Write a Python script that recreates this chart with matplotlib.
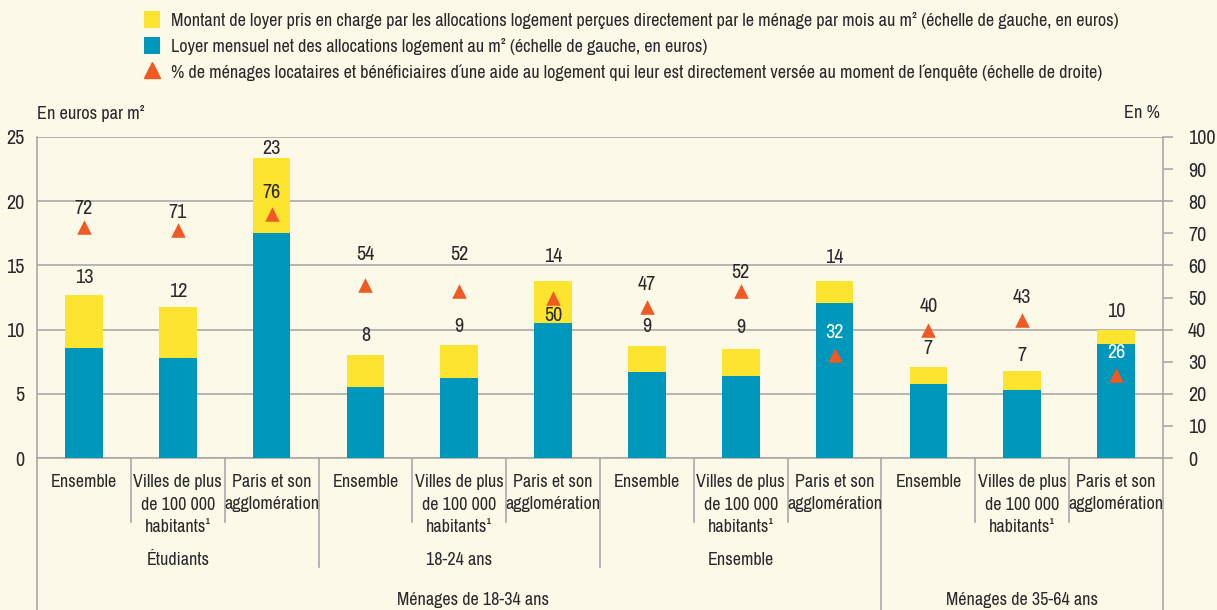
import matplotlib
matplotlib.use("Agg")
import matplotlib.pyplot as plt
from matplotlib import font_manager as fm
from matplotlib.patches import Patch
from matplotlib.lines import Line2D
from matplotlib.transforms import blended_transform_factory

# Données
categories = ["Ensemble", "Villes de plus\nde 100 000\nhabitants\u00b9", "Paris et son\nagglomération"] * 4
sous_groupes = ["Étudiants", "18-24 ans", "Ensemble"]
groupes = ["Ménages de 18-34 ans", "Ménages de 35-64 ans"]
loyer_net = [8.6, 7.8, 17.5, 5.55, 6.25, 10.55, 6.7, 6.4, 12.05, 5.75, 5.3, 8.9]
montant_alloc = [4.1, 3.95, 5.85, 2.5, 2.55, 3.25, 2.0, 2.1, 1.7, 1.35, 1.45, 1.1]
total_labels = [13, 12, 23, 8, 9, 14, 9, 9, 14, 7, 7, 10]
pct_beneficiaires = [72, 71, 76, 54, 52, 50, 47, 52, 32, 40, 43, 26]

# Décalages des étiquettes (en pixels)
off_total = [17, 16, 10, 19, 19, 24, 20, 21, 24, 18, 16, 18]
off_pct = [18, 18, 22, 30, 37, -18, 23, 19, 23, 23, 22, 22]

BG = "#FDF9E9"
JAUNE = "#FDE42F"
BLEU = "#0097BD"
ORANGE = "#EF5A24"
GRIS = "#A9A9A9"
TXT = "#2A2A2A"

# police étroite si disponible, sinon Liberation Sans plus petite
famille, etirement, k = "Liberation Sans", "normal", 0.86
for f in fm.fontManager.ttflist:
    st = str(f.stretch)
    if ("Narrow" in f.name or "Condensed" in f.name or st in ("condensed", "semi-condensed")) \
            and f.style == "normal" and str(f.weight) in ("400", "normal", "regular"):
        famille, etirement, k = f.name, st, 1.0
        if "Narrow" in f.name or "Liberation" in f.name:
            break

plt.rcParams["font.family"] = [famille, "DejaVu Sans"]
plt.rcParams["font.stretch"] = etirement
plt.rcParams["text.color"] = TXT

W, H = 1217, 610
fig = plt.figure(figsize=(W / 100, H / 100), dpi=100, facecolor=BG)
ax = fig.add_axes([37 / W, 1 - 458 / H, (1163 - 37) / W, (458 - 137) / H])
ax.set_facecolor(BG)

x = list(range(len(loyer_net)))
totaux = [a + b for a, b in zip(loyer_net, montant_alloc)]

ax.bar(x, loyer_net, width=0.4, color=BLEU, zorder=3)
ax.bar(x, montant_alloc, width=0.4, bottom=loyer_net, color=JAUNE, zorder=3)

ax.set_xlim(-0.5, 11.5)
ax.set_ylim(0, 25)
ax.set_yticks(range(0, 26, 5))
ax.yaxis.grid(True, color=GRIS, lw=1.2, zorder=0)
ax.set_xticks([])
ax.tick_params(axis="y", length=0, pad=9, labelsize=14.5 * k, labelcolor=TXT)
for s in ["top", "right"]:
    ax.spines[s].set_visible(False)
for s in ["left", "bottom"]:
    ax.spines[s].set_color(GRIS)
    ax.spines[s].set_linewidth(1.2)

ax2 = ax.twinx()
ax2.set_ylim(0, 100)
ax2.set_yticks(range(0, 101, 10))
ax2.tick_params(axis="y", length=7, width=1.2, color=GRIS, pad=11, labelsize=14.5 * k, labelcolor=TXT)
for s in ["top", "left", "bottom"]:
    ax2.spines[s].set_visible(False)
ax2.spines["right"].set_color(GRIS)
ax2.spines["right"].set_linewidth(1.2)
ax2.scatter(x, pct_beneficiaires, marker="^", s=110, color=ORANGE, zorder=5, linewidths=0)

px = 0.72  # points par pixel
for i in x:
    ax.annotate(str(total_labels[i]), (i, totaux[i]), xytext=(0, off_total[i] * px),
                textcoords="offset points", ha="center", va="center", fontsize=14.5 * k, zorder=6)
    col = "white" if i in (8, 11) else TXT
    ax2.annotate(str(pct_beneficiaires[i]), (i, pct_beneficiaires[i]), xytext=(0, off_pct[i] * px),
                 textcoords="offset points", ha="center", va="center", fontsize=14.5 * k,
                 color=col, zorder=6)

# Axe des abscisses à plusieurs niveaux
tr = blended_transform_factory(ax.transData, fig.transFigure)
def fy(p):
    return 1 - p / H

for b in [0.5, 1.5, 3.5, 4.5, 6.5, 7.5, 9.5, 10.5]:
    ax.plot([b, b], [fy(458), fy(522)], transform=tr, color=GRIS, lw=1.2, clip_on=False)
for b in [2.5, 5.5]:
    ax.plot([b, b], [fy(458), fy(567)], transform=tr, color=GRIS, lw=1.2, clip_on=False)
for b in [-0.5, 8.5, 11.5]:
    ax.plot([b, b], [fy(458), fy(612)], transform=tr, color=GRIS, lw=1.2, clip_on=False)

for i, lab in enumerate(categories):
    ax.text(i, fy(474), lab, transform=tr, ha="center", va="top",
            fontsize=13 * k, linespacing=1.5)
for j, lab in enumerate(sous_groupes):
    ax.text(1 + 3 * j, fy(560), lab, transform=tr, ha="center", va="center", fontsize=13 * k)
ax.text(4.15, fy(600), groupes[0], transform=tr, ha="center", va="center", fontsize=13 * k)
ax.text(10, fy(600), groupes[1], transform=tr, ha="center", va="center", fontsize=13 * k)

fig.text(37 / W, fy(113), "En euros par m²", ha="left", va="center", fontsize=13.2 * k)
fig.text(1160 / W, fy(113), "En %", ha="right", va="center", fontsize=13.2 * k)

handles = [
    Patch(facecolor=JAUNE, edgecolor="none"),
    Patch(facecolor=BLEU, edgecolor="none"),
    Line2D([], [], marker="^", linestyle="none", color=ORANGE, markersize=11),
]
labels = [
    "Montant de loyer pris en charge par les allocations logement perçues directement par le ménage par mois au m² (échelle de gauche, en euros)",
    "Loyer mensuel net des allocations logement au m² (échelle de gauche, en euros)",
    "% de ménages locataires et bénéficiaires d\u00b4\u200aune aide au logement qui leur est directement versée au moment de l\u00b4\u200aenquête (échelle de droite)",
]
fig.legend(handles, labels, loc="upper left", bbox_to_anchor=(144 / W, 1 - 11 / H),
           frameon=False, fontsize=13.1 * k, handlelength=0.87, handleheight=1.08,
           handletextpad=0.62, labelspacing=0.45, borderaxespad=0, borderpad=0)

fig.savefig("out.png", dpi=100, facecolor=BG)
